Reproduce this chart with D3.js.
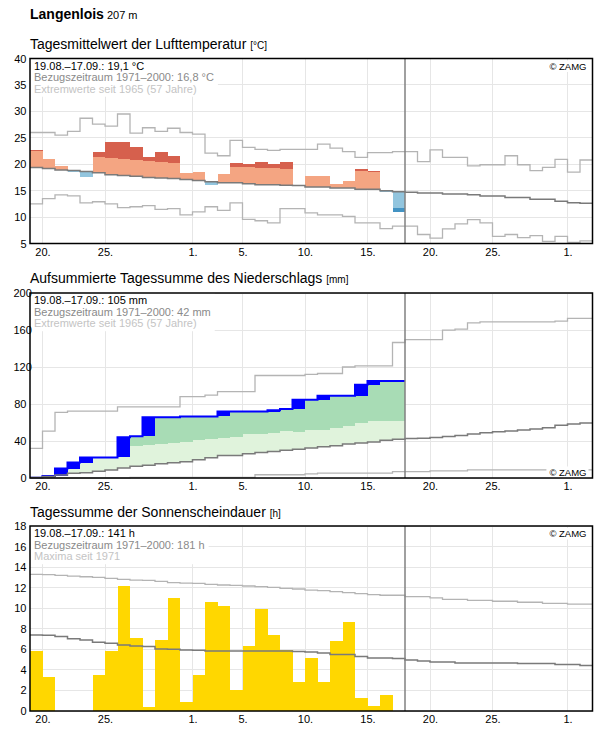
<!DOCTYPE html>
<html>
<head>
<meta charset="utf-8">
<script src="https://cdn.jsdelivr.net/npm/d3@7"></script>
<style>
  body { margin: 0; background: #fff; }
  svg { font-family: "Liberation Sans", Arial, sans-serif; }
</style>
</head>
<body>
<div id="chart"></div>
<script>
// ---- data ----
const stationName = "Langenlois";
const stationAlt = "207 m";
const startDate = "2021-08-19";
const dayCount = 45;          // 19.08. .. 02.10.
const todayDate = "2021-09-18";
const xTickDates = ["2021-08-20", "2021-08-25", "2021-09-01", "2021-09-05", "2021-09-10",
                    "2021-09-15", "2021-09-20", "2021-09-25", "2021-10-01"];

// temperature, daily mean (°C), 19.08.-17.09.
const tempObs = [22.66, 20.9, 19.6, 18.55, 17.6, 22.35, 24.2, 24.2, 23.2, 21.35,
                 22.3, 21.5, 18.3, 18.5, 16.05, 18.1, 20.25, 20.0, 20.45, 20.05,
                 20.45, 15.95, 17.7, 17.7, 16.35, 16.75, 19.05, 18.75, 14.7, 10.9];
// where the dark colour starts (above / below normal)
const tempUpper = [22.53, 22.3, 22.0, 21.8, 21.6, 21.3, 21.15, 20.95, 20.76, 20.63,
                   20.44, 20.25, 20.1, 19.9, 19.7, 19.55, 19.5, 19.43, 19.3, 19.24,
                   19.1, 19.0, 18.9, 18.8, 18.75, 18.7, 18.7, 18.5, 18.1, 17.9];
const tempLower = [16.3, 16.1, 15.9, 15.7, 15.5, 15.3, 15.0, 14.8, 14.6, 14.4,
                   14.3, 14.2, 14.0, 13.8, 13.6, 13.4, 13.4, 13.2, 13.0, 13.0,
                   12.9, 12.8, 12.6, 12.6, 12.4, 12.4, 12.2, 12.2, 12.0, 11.75];
const tempMean = [19.4, 19.2, 18.9, 18.8, 18.6, 18.4, 18.0, 17.85, 17.7, 17.5,
                  17.4, 17.3, 17.1, 16.9, 16.7, 16.5, 16.5, 16.3, 16.1, 16.1,
                  16.0, 15.95, 15.7, 15.7, 15.5, 15.5, 15.25, 15.25, 15.0, 14.8,
                  14.7, 14.55, 14.55, 14.35, 14.35, 14.2, 14.0, 14.0, 13.7, 13.7,
                  13.35, 13.35, 13.0, 12.7, 12.6];
const tempMax = [26.0, 26.0, 25.5, 26.2, 28.7, 27.6, 27.2, 29.5, 25.9, 26.9,
                 26.2, 26.8, 26.0, 25.7, 22.1, 21.6, 24.5, 23.2, 22.8, 22.6,
                 22.8, 22.8, 22.8, 23.8, 23.05, 22.4, 21.3, 22.2, 22.2, 22.4,
                 22.4, 20.5, 22.7, 21.3, 21.3, 19.7, 19.9, 19.9, 21.6, 19.9,
                 18.8, 19.4, 20.9, 18.5, 20.8];
const tempMin = [12.5, 13.5, 14.2, 14.0, 12.7, 12.9, 12.5, 11.8, 11.95, 12.15,
                 11.45, 11.6, 10.4, 11.0, 11.95, 11.25, 12.7, 9.55, 9.3, 8.9,
                 11.6, 11.6, 10.8, 10.4, 10.4, 10.15, 8.9, 8.9, 7.8, 8.3,
                 8.3, 6.7, 6.0, 7.75, 8.7, 9.5, 8.9, 6.35, 6.7, 6.1,
                 6.5, 5.4, 6.35, 5.2, 5.5];

// precipitation, accumulated (mm)
const precObs = [0.3, 2.2, 10.2, 16.7, 22.2, 22.2, 22.2, 44.0, 45.1, 65.8,
                 65.8, 65.8, 66.5, 66.5, 66.5, 71.8, 71.8, 71.8, 71.8, 73.2,
                 74.6, 84.6, 84.6, 88.9, 88.9, 88.9, 100.7, 105.0, 105.0, 105.0];
const precBand = [12, 14, 17, 20, 24, 27, 30, 32, 34.2, 35.3,
                  36.4, 37.8, 38.5, 40.7, 42.1, 43.2, 43.9, 47.1, 47.1, 48.6,
                  50.3, 50.0, 52.1, 52.1, 53.6, 55.7, 59.3, 61.1, 62.1, 62.1];
const precMean = [0.5, 1.5, 3.3, 5.1, 5.8, 7.3, 8.7, 10.9, 12.7, 13.8,
                  15.3, 16.4, 17.5, 19.6, 21.8, 24.3, 24.3, 26.1, 27.5, 28.6,
                  30.0, 31.1, 32.5, 33.9, 35.0, 36.8, 37.9, 38.9, 40.7, 42.0,
                  42.6, 43.1, 43.8, 44.9, 46.0, 47.5, 48.9, 50.0, 50.7, 51.8,
                  52.9, 54.3, 56.9, 58.3, 59.4];
const precMax = [32, 50.6, 71, 72.2, 72.2, 72.2, 72.2, 77, 77, 77,
                 77, 77, 88, 88, 89.5, 93.3, 93.3, 93.3, 110.8, 110.8,
                 110.8, 110.8, 112, 113, 113, 120, 121.2, 121.2, 121.2, 146.5,
                 149.6, 149.6, 149.6, 159.8, 160.9, 167.8, 168.8, 168.8, 168.8, 168.8,
                 168.8, 168.8, 169.6, 172.5, 172.5];
const precMin = [0, 0, 0, 0, 0, 0, 0, 0, 0.6, 0.6,
                 0.6, 0.6, 0.6, 0.6, 0.6, 0.6, 0.6, 0.6, 3.5, 3.5,
                 3.5, 3.5, 4.5, 5.3, 5.3, 5.3, 5.3, 5.3, 5.3, 6.8,
                 6.8, 6.8, 7.6, 7.6, 7.6, 8.7, 8.7, 8.7, 8.7, 8.7,
                 8.7, 8.7, 8.7, 8.7, 8.7];

// sunshine duration, daily (h)
const sunObs = [5.8, 3.3, 0, 0, 0, 3.5, 5.8, 12.2, 7.1, 0.4,
                6.9, 11.0, 0.9, 3.5, 10.6, 10.2, 2.0, 6.3, 9.9, 7.4,
                5.9, 2.8, 5.2, 2.8, 6.8, 8.7, 1.3, 0.5, 1.6, 0];
const sunMean = [7.39, 7.36, 7.26, 7.03, 6.9, 6.7, 6.6, 6.42, 6.32, 6.28,
                 6.03, 6.0, 5.94, 5.9, 5.84, 5.84, 5.84, 5.84, 5.84, 5.84,
                 5.84, 5.8, 5.75, 5.65, 5.5, 5.5, 5.3, 5.16, 5.16, 5.1,
                 4.97, 4.87, 4.77, 4.77, 4.68, 4.68, 4.68, 4.68, 4.68, 4.61,
                 4.61, 4.61, 4.52, 4.52, 4.42];
const sunMax = [13.29, 13.26, 13.19, 13.13, 13.06, 13.0, 12.9, 12.8, 12.74, 12.71,
                12.61, 12.5, 12.45, 12.42, 12.32, 12.26, 12.23, 12.16, 12.1, 12.03,
                11.94, 11.87, 11.77, 11.71, 11.61, 11.52, 11.42, 11.32, 11.26, 11.26,
                11.13, 11.13, 11.0, 10.87, 10.87, 10.77, 10.77, 10.68, 10.68, 10.58,
                10.58, 10.48, 10.48, 10.39, 10.39];

// ---- layout ----
const width = 596, height = 729;
const plotLeft = 30, plotRight = 592.5, plotH = 185;

const parseDay = d3.utcParse("%Y-%m-%d");
const t0 = parseDay(startDate);
const dayAt = i => d3.utcDay.offset(t0, i);

const x = d3.scaleUtc()
  .domain([t0, dayAt(dayCount)])
  .range([plotLeft, plotRight]);

const svg = d3.select("#chart")
  .append("svg")
  .attr("width", width)
  .attr("height", height);

const head = svg.append("text").attr("x", 30).attr("y", 19).attr("fill", "#000");
head.append("tspan").attr("font-size", 14).attr("font-weight", "bold").text(stationName);
head.append("tspan").attr("font-size", 11).text(" " + stationAlt);

// step line helper: value i holds from day i to day i+1
function steps(vals) {
  const pts = vals.map((v, i) => ({ t: dayAt(i), v: v }));
  pts.push({ t: dayAt(vals.length), v: vals[vals.length - 1] });
  return pts;
}

function stepLine(g, y, vals, color, w) {
  const line = d3.line().curve(d3.curveStepAfter).x(d => x(d.t)).y(d => y(d.v));
  g.append("path")
    .datum(steps(vals))
    .attr("d", line)
    .attr("fill", "none")
    .attr("stroke", color)
    .attr("stroke-width", w);
}

function dayRects(g, y, segs) {
  g.append("g")
    .attr("shape-rendering", "crispEdges")
    .selectAll("rect")
    .data(segs.filter(d => d.hi > d.lo))
    .join("rect")
    .attr("x", d => x(dayAt(d.i)))
    .attr("width", d => x(dayAt(d.i + 1)) - x(dayAt(d.i)))
    .attr("y", d => y(d.hi))
    .attr("height", d => y(d.lo) - y(d.hi))
    .attr("fill", d => d.c);
}

function makePanel(o) {
  const g = svg.append("g");
  const bottom = o.top + plotH;
  const y = d3.scaleLinear().domain(o.domain).range([bottom, o.top]);

  const title = g.append("text")
    .attr("x", 30).attr("y", o.titleY)
    .attr("font-size", 14).attr("fill", "#000")
    .text(o.title + " ");
  title.append("tspan").attr("font-size", 10).text(o.unit);

  // grid
  g.append("g").attr("shape-rendering", "crispEdges")
    .selectAll("line").data(o.ticks).join("line")
    .attr("x1", plotLeft).attr("x2", plotRight)
    .attr("y1", d => y(d)).attr("y2", d => y(d))
    .attr("stroke", "#e6e6e6");
  g.append("g").attr("shape-rendering", "crispEdges")
    .selectAll("line").data(xTickDates.map(parseDay)).join("line")
    .attr("x1", d => x(d)).attr("x2", d => x(d))
    .attr("y1", o.top).attr("y2", bottom)
    .attr("stroke", "#e6e6e6");

  o.draw(g.append("g"), y);

  // today
  g.append("line")
    .attr("x1", x(parseDay(todayDate))).attr("x2", x(parseDay(todayDate)))
    .attr("y1", o.top).attr("y2", bottom)
    .attr("stroke", "#808080").attr("stroke-width", 1.5);

  // info text with white box behind
  const box = g.append("rect").attr("fill", "#fff");
  const colors = ["#000", "#8a8a8a", "#c4c4c4"];
  let maxW = 0;
  o.lines.forEach((s, k) => {
    const t = g.append("text")
      .attr("x", 34).attr("y", o.top + 11 + k * 11.6)
      .attr("font-size", 11).attr("fill", colors[k])
      .text(s);
    maxW = Math.max(maxW, t.node().getComputedTextLength());
  });
  box.attr("x", plotLeft).attr("y", o.top)
    .attr("width", maxW + 8).attr("height", 11 + 2 * 11.6 + 4);

  const zy = o.zamgTop ? o.top + 11 : bottom - 2.5;
  const zb = g.append("rect").attr("fill", "#fff");
  const z = g.append("text")
    .attr("x", 586.5).attr("y", zy)
    .attr("text-anchor", "end")
    .attr("font-size", 9.5).attr("fill", "#000")
    .text("© ZAMG");
  const zw = z.node().getComputedTextLength();
  zb.attr("x", 586.5 - zw - 3).attr("y", zy - 9).attr("width", zw + 5).attr("height", 11.5);

  // frame
  g.append("rect")
    .attr("x", plotLeft).attr("y", o.top)
    .attr("width", plotRight - plotLeft).attr("height", plotH)
    .attr("fill", "none").attr("stroke", "#000").attr("stroke-width", 1.5);

  // axes
  const xAxis = d3.axisBottom(x)
    .tickValues(xTickDates.map(parseDay))
    .tickFormat(d3.utcFormat("%-d."))
    .tickSize(0)
    .tickPadding(4.5);
  const gx = g.append("g")
    .attr("transform", `translate(0, ${bottom})`)
    .call(xAxis);
  gx.select(".domain").remove();
  gx.selectAll("text").attr("font-size", 11).attr("fill", "#000")
    .attr("font-family", "'Liberation Sans', Arial, sans-serif");

  const yAxis = d3.axisLeft(y).tickValues(o.ticks).tickSize(0).tickPadding(3.5);
  const gy = g.append("g")
    .attr("transform", `translate(${plotLeft}, 0)`)
    .call(yAxis);
  gy.select(".domain").remove();
  gy.selectAll("text").attr("font-size", 11).attr("fill", "#000")
    .attr("font-family", "'Liberation Sans', Arial, sans-serif")
    .each(function () {
      // long labels start at the left margin
      if (this.getComputedTextLength() > 14) {
        d3.select(this).attr("text-anchor", "start").attr("x", -16.5);
      }
    });
}

// ---- temperature ----
makePanel({
  top: 58.5, titleY: 48.5,
  domain: [5, 40], ticks: [5, 10, 15, 20, 25, 30, 35, 40],
  title: "Tagesmittelwert der Lufttemperatur", unit: "[°C]",
  lines: ["19.08.–17.09.: 19,1 °C", "Bezugszeitraum 1971–2000: 16,8 °C", "Extremwerte seit 1965 (57 Jahre)"],
  zamgTop: true,
  draw: (g, y) => {
    const segs = [];
    tempObs.forEach((a, i) => {
      const m = tempMean[i];
      if (a >= m) {
        segs.push({ i: i, lo: m, hi: Math.min(a, tempUpper[i]), c: "#f4a582" });
        if (a > tempUpper[i]) segs.push({ i: i, lo: tempUpper[i], hi: a, c: "#d6604d" });
      } else {
        segs.push({ i: i, lo: Math.max(a, tempLower[i]), hi: m, c: "#92c5de" });
        if (a < tempLower[i]) segs.push({ i: i, lo: a, hi: tempLower[i], c: "#4393c3" });
      }
    });
    dayRects(g, y, segs);
    stepLine(g, y, tempMax, "#b4b4b4", 1.3);
    stepLine(g, y, tempMin, "#b4b4b4", 1.3);
    stepLine(g, y, tempMean, "#7a7a7a", 1.5);
  }
});

// ---- precipitation ----
makePanel({
  top: 293, titleY: 282.5,
  domain: [0, 200], ticks: [0, 40, 80, 120, 160, 200],
  title: "Aufsummierte Tagessumme des Niederschlags", unit: "[mm]",
  lines: ["19.08.–17.09.: 105 mm", "Bezugszeitraum 1971–2000: 42 mm", "Extremwerte seit 1965 (57 Jahre)"],
  zamgTop: false,
  draw: (g, y) => {
    const segs = [];
    precObs.forEach((v, i) => {
      const m = precMean[i];
      if (v > m) {
        segs.push({ i: i, lo: m, hi: Math.min(v, precBand[i]), c: "#e0f3dc" });
        if (v > precBand[i]) segs.push({ i: i, lo: precBand[i], hi: v, c: "#a8dcb5" });
      }
    });
    dayRects(g, y, segs);
    // daily increments
    dayRects(g, y, precObs.map((v, i) => ({ i: i, lo: i ? precObs[i - 1] : 0, hi: v, c: "#0000ff" })));
    stepLine(g, y, precObs, "#0000ff", 2);
    stepLine(g, y, precMax, "#b4b4b4", 1.3);
    stepLine(g, y, precMin, "#b4b4b4", 1.3);
    stepLine(g, y, precMean, "#7a7a7a", 1.5);
  }
});

// ---- sunshine ----
makePanel({
  top: 526, titleY: 516.5,
  domain: [0, 18], ticks: [0, 2, 4, 6, 8, 10, 12, 14, 16, 18],
  title: "Tagessumme der Sonnenscheindauer", unit: "[h]",
  lines: ["19.08.–17.09.: 141 h", "Bezugszeitraum 1971–2000: 181 h", "Maxima seit 1971"],
  zamgTop: true,
  draw: (g, y) => {
    dayRects(g, y, sunObs.map((v, i) => ({ i: i, lo: 0, hi: v, c: "#ffd700" })));
    stepLine(g, y, sunMax, "#b4b4b4", 1.3);
    stepLine(g, y, sunMean, "#7a7a7a", 1.5);
  }
});
</script>
</body>
</html>
